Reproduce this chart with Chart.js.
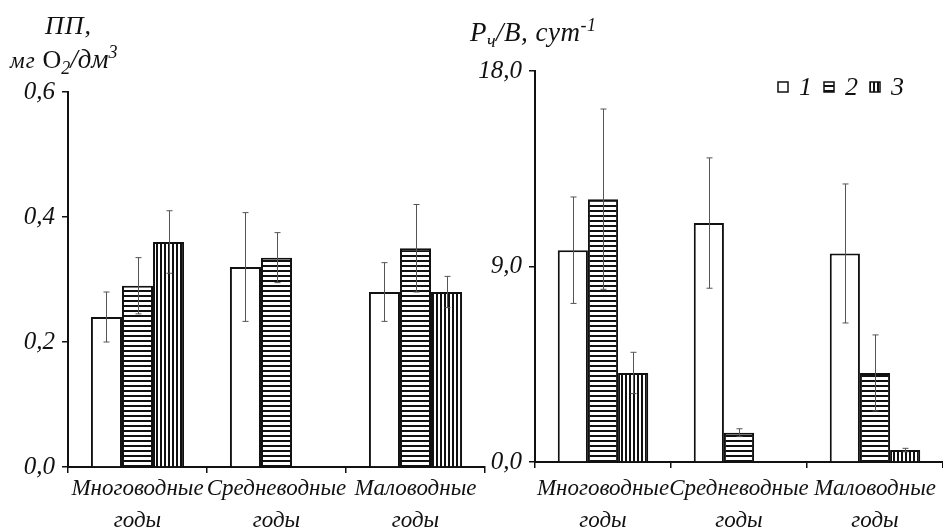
<!DOCTYPE html>
<html>
<head>
<meta charset="utf-8">
<script src="https://cdn.jsdelivr.net/npm/chart.js@4"></script>
<style>
    body { margin: 0; background: #fff; }
    #wrap { position: relative; width: 943px; height: 529px; overflow: hidden; background: #fff; }
    .box { position: absolute; top: 0; height: 529px; }
    .ttl { position: absolute; font-family: "Liberation Serif", serif; font-style: italic; color: #111; line-height: 1; white-space: nowrap; }
    .ttl sub, .ttl sup { font-size: 18px; }
</style>
</head>
<body>
<div id="wrap">
    <div class="box" style="left:0;width:487px"><canvas id="chartLeft"></canvas></div>
    <div class="box" style="left:465px;width:478px"><canvas id="chartRight"></canvas></div>
    <div class="ttl" style="left:45px;top:13px;font-size:26px;letter-spacing:1px">ПП,</div>
    <div class="ttl" style="left:10px;top:43px;font-size:27px"><span style="font-size:23px;letter-spacing:1px">мг</span> <span style="font-style:normal;font-size:26px">O</span><sub>2</sub>/дм<sup>3</sup></div>
    <div class="ttl" style="left:470px;top:16px;font-size:27px;letter-spacing:0.5px">Р<sub>ч</sub>/В, <span>сут</span><sup>-1</sup></div>
</div>
<script>
// данные
const categories = [["Многоводные", "годы"], ["Средневодные", "годы"], ["Маловодные", "годы"]];
const seriesNames = ["1", "2", "3"];

// ПП, мг O2/дм3
const ppMean1 = [0.24, 0.32, 0.28];
const ppErr1 = [0.04, 0.087, 0.047];
const ppMean2 = [0.29, 0.335, 0.35];
const ppErr2 = [0.045, 0.04, 0.07];
const ppMean3 = [0.36, null, 0.28];
const ppErr3 = [0.05, null, 0.025];
const ppTicks = ["0,0", "0,2", "0,4", "0,6"];

// Рч/В, сут-1
const pbMean1 = [9.75, 11.0, 9.6];
const pbErr1 = [2.45, 3.0, 3.2];
const pbMean2 = [12.1, 1.35, 4.1];
const pbErr2 = [4.15, 0.18, 1.75];
const pbMean3 = [4.1, null, 0.55];
const pbErr3 = [0.95, null, 0.08];
const pbTicks = ["0,0", "9,0", "18,0"];

const FONT = "'Liberation Serif', serif";

// штриховки
function makePattern(dir) {
    const c = document.createElement("canvas");
    const size = dir === "h" ? 5 : 4;
    c.width = size; c.height = size;
    const g = c.getContext("2d");
    g.fillStyle = "#fff";
    g.fillRect(0, 0, size, size);
    g.fillStyle = "#111";
    if (dir === "h") g.fillRect(0, 0, size, 2);
    else g.fillRect(0, 0, 2, size);
    return g.createPattern(c, "repeat");
}
const hatchH = makePattern("h");
const hatchV = makePattern("v");
const fills = ["#fff", hatchH, hatchV];

// планки погрешностей
const errorBars = {
    id: "errorBars",
    afterDatasetsDraw(chart) {
        const ctx = chart.ctx;
        const y = chart.scales.y;
        ctx.save();
        ctx.strokeStyle = "#555";
        ctx.lineWidth = 1;
        chart.data.datasets.forEach((ds, i) => {
            const meta = chart.getDatasetMeta(i);
            meta.data.forEach((bar, j) => {
                const v = ds.data[j], e = ds.errors[j];
                if (v == null || e == null) return;
                const x = Math.round(bar.x) + 0.5;
                const top = y.getPixelForValue(v + e);
                const bot = y.getPixelForValue(Math.max(v - e, 0));
                ctx.beginPath();
                ctx.moveTo(x, top); ctx.lineTo(x, bot);
                ctx.moveTo(x - 3, top); ctx.lineTo(x + 3, top);
                ctx.moveTo(x - 3, bot); ctx.lineTo(x + 3, bot);
                ctx.stroke();
            });
        });
        ctx.restore();
    }
};

// легенда внутри поля графика
const boxLegend = {
    id: "boxLegend",
    afterDraw(chart, args, opts) {
        if (!opts.show) return;
        const ctx = chart.ctx;
        const area = chart.chartArea;
        const yc = area.top + 16;
        let x = area.right - 165;
        ctx.save();
        ctx.font = "italic 26px " + FONT;
        ctx.textBaseline = "middle";
        ctx.fillStyle = "#111";
        chart.data.datasets.forEach((ds) => {
            ctx.fillStyle = ds.backgroundColor;
            ctx.fillRect(x, yc - 5, 10, 10);
            ctx.strokeStyle = "#111";
            ctx.lineWidth = 1.5;
            ctx.strokeRect(x, yc - 5, 10, 10);
            ctx.fillStyle = "#111";
            ctx.fillText(ds.label, x + 21, yc + 1);
            x += ctx.measureText(ds.label).width + 33;
        });
        ctx.restore();
    }
};

function buildChart(id, means, errs, tickLabels, max, step, pad, yWidth, xHeight, legend, catPct, labelPad) {
    const ctx = document.getElementById(id).getContext("2d");
    return new Chart(ctx, {
        type: "bar",
        data: {
            labels: categories,
            datasets: means.map((m, i) => ({
                label: seriesNames[i],
                data: m,
                errors: errs[i],
                backgroundColor: fills[i],
                borderColor: "#111",
                borderWidth: 2,
                barPercentage: 1.0,
                categoryPercentage: catPct
            }))
        },
        options: {
            responsive: true,
            maintainAspectRatio: false,
            animation: false,
            layout: { padding: pad },
            plugins: {
                legend: { display: false },
                tooltip: { enabled: false },
                boxLegend: { show: legend }
            },
            scales: {
                x: {
                    grid: { display: true, drawOnChartArea: false, drawTicks: true, tickLength: 6, color: "#111", lineWidth: 1.5, offset: true },
                    border: { display: true, color: "#111", width: 2 },
                    ticks: {
                        color: "#111",
                        padding: labelPad,
                        maxRotation: 0,
                        autoSkip: false,
                        font: { family: FONT, style: "italic", size: 23, lineHeight: 1.4 }
                    },
                    afterFit: (s) => { s.height = xHeight; }
                },
                y: {
                    min: 0,
                    max: max,
                    grid: { display: true, drawOnChartArea: false, drawTicks: true, tickLength: 6, color: "#111", lineWidth: 1.5 },
                    border: { display: true, color: "#111", width: 2 },
                    ticks: {
                        stepSize: step,
                        color: "#111",
                        padding: 7,
                        font: { family: FONT, style: "italic", size: 25 },
                        callback: (v, i) => tickLabels[i]
                    },
                    afterFit: (s) => { s.width = yWidth; }
                }
            }
        },
        plugins: [errorBars, boxLegend]
    });
}

buildChart("chartLeft",
    [ppMean1, ppMean2, ppMean3], [ppErr1, ppErr2, ppErr3],
    ppTicks, 0.6, 0.2,
    { top: 92, right: 2, bottom: 0, left: 0 }, 68, 62, false, 0.67, 0);

buildChart("chartRight",
    [pbMean1, pbMean2, pbMean3], [pbErr1, pbErr2, pbErr3],
    pbTicks, 18, 9,
    { top: 71, right: 0, bottom: 0, left: 0 }, 70, 67, true, 0.665, 5);
</script>
</body>
</html>
